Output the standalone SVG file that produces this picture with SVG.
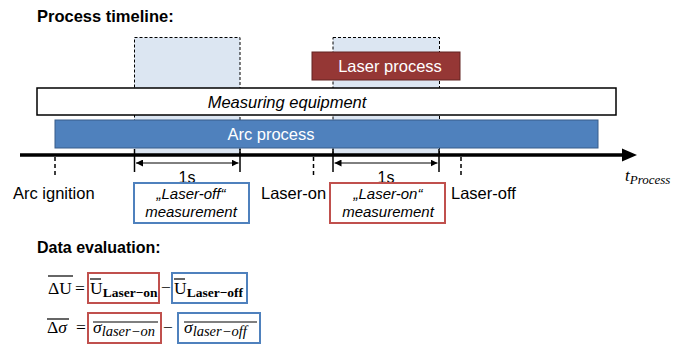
<svg xmlns="http://www.w3.org/2000/svg" width="684" height="344" viewBox="0 0 684 344">
<style>
.s{font-family:"Liberation Sans",Arial,sans-serif;fill:#000}
.b{font-weight:bold}
.i{font-style:italic}
.m{font-family:"Liberation Serif","DejaVu Serif",serif;fill:#000}
.dash{fill:#dce6f2;stroke:#000;stroke-width:1;stroke-dasharray:3,2}
.tick{stroke:#000;stroke-width:1.5}
.dtick{stroke:#000;stroke-width:1.5;stroke-dasharray:4,3}
.red{fill:#fff;stroke:#c0504d;stroke-width:2}
.blue{fill:#fff;stroke:#4f81bd;stroke-width:2}
</style>
<defs>
<marker id="ah" viewBox="0 0 10 10" refX="10" refY="5" markerWidth="7" markerHeight="7" orient="auto-start-reverse" markerUnits="userSpaceOnUse">
<path d="M0,0 L10,5 L0,10 z" fill="#000"/>
</marker>
</defs>
<rect width="684" height="344" fill="#fff"/>
<text class="s b" x="37" y="22" font-size="16.5">Process timeline:</text>

<g id="window-off"><rect class="dash" x="134.5" y="37.5" width="105.5" height="117"/></g>
<g id="window-on"><rect class="dash" x="333" y="37.5" width="106.5" height="117"/></g>

<g id="measuring-equipment">
<rect x="37" y="88" width="579" height="27" fill="#fff" stroke="#000" stroke-width="1.5"/>
<text class="s i" x="287" y="107.5" font-size="16.5" text-anchor="middle">Measuring equipment</text>
</g>
<g id="arc-process">
<rect x="55" y="120" width="543" height="28" fill="#4f81bd" stroke="#385d8a" stroke-width="1"/>
<text class="s" x="271" y="140" font-size="16.5" text-anchor="middle" style="fill:#fff">Arc process</text>
</g>
<g id="laser-process">
<rect x="312" y="52" width="148" height="28" fill="#953735" stroke="#632523" stroke-width="1"/>
<text class="s" x="390" y="72" font-size="16.5" text-anchor="middle" style="fill:#fff">Laser process</text>
</g>

<g id="connectors">
<line x1="20" y1="155" x2="624" y2="155" stroke="#000" stroke-width="3.5"/>
<polygon points="622,148.5 637,155 622,161.5" fill="#000"/>
<line class="tick" x1="134.5" y1="149" x2="134.5" y2="172"/>
<line class="tick" x1="240" y1="149" x2="240" y2="172"/>
<line class="tick" x1="333" y1="149" x2="333" y2="172"/>
<line class="tick" x1="439" y1="149" x2="439" y2="172"/>
<line x1="136" y1="163" x2="238.5" y2="163" stroke="#000" stroke-width="1" marker-start="url(#ah)" marker-end="url(#ah)"/>
<line x1="334.5" y1="163" x2="437.5" y2="163" stroke="#000" stroke-width="1" marker-start="url(#ah)" marker-end="url(#ah)"/>
<line class="dtick" x1="55" y1="157" x2="55" y2="178"/>
<line class="dtick" x1="313.5" y1="157" x2="313.5" y2="178"/>
<line class="dtick" x1="461" y1="157" x2="461" y2="178"/>
</g>

<text class="s" x="187" y="183" font-size="16" text-anchor="middle">1s</text>
<text class="s" x="386" y="183" font-size="16" text-anchor="middle">1s</text>
<text class="m i" x="625" y="181" font-size="17">t<tspan font-size="13" dy="3">Process</tspan></text>

<g id="arc-ignition"><text class="s" x="13" y="199" font-size="16.5">Arc ignition</text></g>
<g id="laser-on"><text class="s" x="261" y="199" font-size="16.5">Laser-on</text></g>
<g id="laser-off"><text class="s" x="451" y="199" font-size="16.5">Laser-off</text></g>

<g id="laser-off-measurement">
<rect class="blue" x="134" y="183" width="115" height="40"/>
<text class="s i" x="191" y="199" font-size="15" text-anchor="middle">„Laser-off“</text>
<text class="s i" x="191" y="217" font-size="15" text-anchor="middle">measurement</text>
</g>
<g id="laser-on-measurement">
<rect class="red" x="330" y="183" width="115" height="40"/>
<text class="s i" x="388" y="199" font-size="15" text-anchor="middle">„Laser-on“</text>
<text class="s i" x="388" y="217" font-size="15" text-anchor="middle">measurement</text>
</g>

<text class="s b" x="37" y="253" font-size="16">Data evaluation:</text>

<g id="eq-u">
<text class="m" x="48" y="294" font-size="17.5">ΔU</text>
<line x1="48" y1="276" x2="73" y2="276" stroke="#000" stroke-width="1.2"/>
<text class="m" x="75" y="294" font-size="17.5">=</text>
<rect class="red" x="88" y="273" width="71" height="30"/>
<text class="m" x="90" y="294" font-size="17.5">U<tspan font-size="13.5" font-weight="bold" dy="3">Laser−on</tspan></text>
<line x1="90" y1="279" x2="101" y2="279" stroke="#000" stroke-width="1.2"/>
<text class="m" x="161" y="293" font-size="17.5">−</text>
<rect class="blue" x="172" y="273" width="75" height="30"/>
<text class="m" x="174" y="294" font-size="17.5">U<tspan font-size="13.5" font-weight="bold" dy="3">Laser−off</tspan></text>
<line x1="174" y1="279" x2="185" y2="279" stroke="#000" stroke-width="1.2"/>
</g>

<g id="eq-sigma">
<text class="m" x="47" y="333" font-size="17.5">Δ<tspan font-style="italic">σ</tspan></text>
<line x1="47" y1="319" x2="69" y2="319" stroke="#000" stroke-width="1.2"/>
<text class="m" x="76" y="333" font-size="17.5">=</text>
<rect class="red" x="88" y="313" width="73" height="30"/>
<text class="m i" x="93" y="333" font-size="17.5">σ<tspan font-size="14.5" dy="3">laser−on</tspan></text>
<line x1="93" y1="322" x2="158" y2="322" stroke="#000" stroke-width="1.2"/>
<text class="m" x="163" y="333" font-size="17.5">−</text>
<rect class="blue" x="178" y="313" width="82" height="30"/>
<text class="m i" x="184" y="333" font-size="17.5">σ<tspan font-size="14.5" dy="3">laser−off</tspan></text>
<line x1="184" y1="322" x2="257" y2="322" stroke="#000" stroke-width="1.2"/>
</g>
</svg>
